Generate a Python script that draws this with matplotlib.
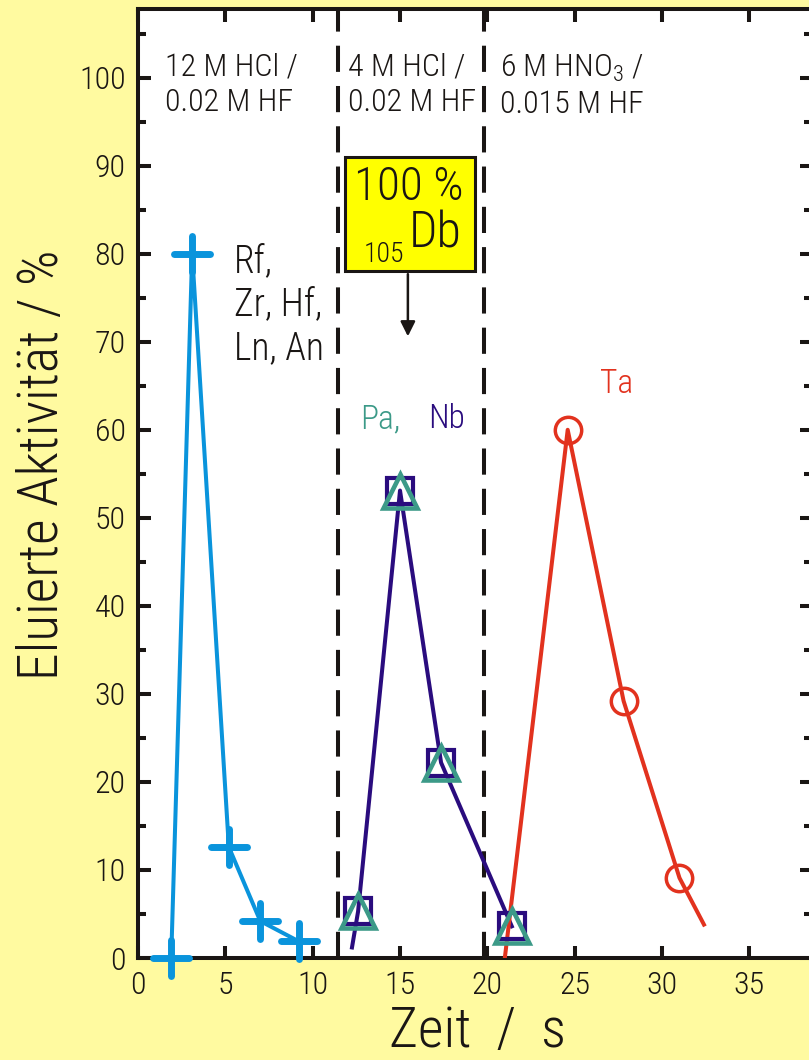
import matplotlib
matplotlib.use("Agg")
import matplotlib.pyplot as plt
from matplotlib.ticker import MultipleLocator
from matplotlib.patches import Rectangle
from matplotlib.markers import MarkerStyle

plt.rcParams['font.family'] = ['Roboto Condensed', 'DejaVu Sans']
plt.rcParams['font.weight'] = 'light'
plt.rcParams['axes.labelweight'] = 'light'
plt.rcParams['mathtext.fontset'] = 'custom'
plt.rcParams['mathtext.rm'] = 'Roboto Condensed:light'

# Rf, Zr, Hf, Ln, An (12 M HCl / 0.02 M HF)
rf_x = [1.9, 3.1, 5.2, 7.0, 9.2]
rf_y = [0.0, 80.0, 12.6, 4.2, 1.9]

# Nb (Linie + Quadrate) und Pa (Dreiecke)
nb_line_x = [12.25, 12.6, 15.0, 17.35, 21.4]
nb_line_y = [1.2, 5.3, 53.1, 22.2, 3.6]
nb_x = [12.6, 15.0, 17.35, 21.4]
nb_y = [5.3, 53.1, 22.2, 3.6]
pa_x = [12.6, 15.0, 17.35, 21.4]
pa_y = [5.3, 53.1, 22.2, 3.6]

# Ta (6 M HNO3 / 0.015 M HF)
ta_line_x = [21.0, 24.6, 27.8, 31.0, 32.4]
ta_line_y = [0.0, 60.0, 29.2, 9.1, 3.8]
ta_x = [24.6, 27.8, 31.0]
ta_y = [60.0, 29.2, 9.1]

# Wechsel der Eluenten
grenzen = [11.45, 19.8]

SCHWARZ = '#1a1614'
BLAU = '#0A94DC'
ROT = '#E2321E'
LILA = '#2A0C7E'
TUERKIS = '#3C9A88'
GELB_BG = '#FFFAA0'

fig = plt.figure(figsize=(8.09, 10.6), dpi=100, facecolor=GELB_BG)
ax = fig.add_axes([0.1706, 0.0962, 0.8334, 0.8953])
ax.set_facecolor('white')

for g in grenzen:
    ax.axvline(g, color=SCHWARZ, lw=2.9, dashes=(6.5, 3.5), zorder=1)

plus = MarkerStyle('+', capstyle='round')
ax.plot(rf_x, rf_y, color=BLAU, lw=2.9, marker=plus, ms=26, mew=5, zorder=3, clip_on=False)
ax.plot(nb_line_x, nb_line_y, color=LILA, lw=2.9, zorder=3)
ax.plot(nb_x, nb_y, ls='none', marker='s', ms=19, mfc='none', mec=LILA, mew=3, zorder=4)
ax.plot(pa_x, pa_y, ls='none', marker='^', ms=25, mfc='none', mec=TUERKIS, mew=3.3, zorder=5)
ax.plot(ta_line_x, ta_line_y, color=ROT, lw=2.9, zorder=3)
ax.plot(ta_x, ta_y, ls='none', marker='o', ms=19, mfc='none', mec=ROT, mew=2.5, zorder=4)

ax.set_xlim(0, 38.6)
ax.set_ylim(0, 107.8)
ax.xaxis.set_major_locator(MultipleLocator(5))
ax.yaxis.set_major_locator(MultipleLocator(10))
ax.yaxis.set_minor_locator(MultipleLocator(5))
ax.tick_params(which='both', direction='in', top=True, right=True, width=2.9,
               colors=SCHWARZ, labelsize=23, pad=9)
ax.tick_params(which='major', length=9)
ax.tick_params(which='minor', length=6)
for s in ax.spines.values():
    s.set_linewidth(2.9)
    s.set_color(SCHWARZ)

ax.set_xlabel('Zeit  /  s', fontsize=40, color=SCHWARZ, fontweight='light')
ax.set_ylabel('Eluierte Aktivität / %', fontsize=40, color=SCHWARZ, fontweight='light')
ax.xaxis.set_label_coords(0.504, -0.050)
ax.yaxis.set_label_coords(-0.102, 0.52)

txt = dict(fontsize=23, color=SCHWARZ, va='top', linespacing=1.3)
ax.text(1.55, 102.9, '12 M HCl /\n0.02 M HF', **txt)
ax.text(12.03, 102.9, '4 M HCl /\n0.02 M HF', **txt)
ax.text(20.73, 102.9, '6 M HNO$_3$ /\n0.015 M HF', **txt)
ax.text(5.5, 81.2, 'Rf,\nZr, Hf,\nLn, An', fontsize=27, color=SCHWARZ, va='top',
        linespacing=1.2)
ax.text(12.7, 60.2, 'Pa,', fontsize=24, color=TUERKIS, va='baseline')
ax.text(16.6, 60.2, 'Nb', fontsize=24, color=LILA, va='baseline')
ax.text(26.46, 64.2, 'Ta', fontsize=24, color=ROT, va='baseline')

ax.add_patch(Rectangle((11.86, 78.0), 7.44, 13.0, facecolor='#FFFF00',
                       edgecolor=SCHWARZ, lw=2.2, zorder=6))
ax.text(15.5, 87.6, '100 %', fontsize=34, ha='center', va='center', color=SCHWARZ, zorder=7)
ax.text(17.0, 80.7, 'Db', fontsize=36, ha='center', va='baseline', color=SCHWARZ, zorder=7)
ax.text(14.1, 79.1, '105', fontsize=20, ha='center', va='baseline', color=SCHWARZ, zorder=7)
ax.annotate('', xy=(15.45, 70.3), xytext=(15.45, 78.0),
            arrowprops=dict(arrowstyle='-|>', color=SCHWARZ, lw=1.8,
                            mutation_scale=22), zorder=7)

fig.savefig('out.png', dpi=100, facecolor=GELB_BG)
